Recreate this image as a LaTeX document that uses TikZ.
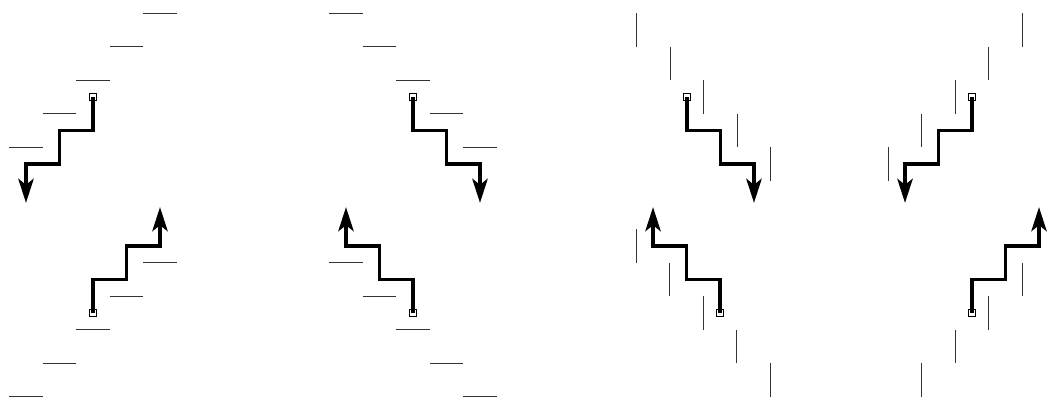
\documentclass[tikz,border=0pt]{standalone}
\usepackage{amsmath, amssymb}
\usepackage{tikz}
\usetikzlibrary{arrows.meta}

\begin{document}
\begin{tikzpicture}[
  x=1cm, y=-1cm,
  seed/.style={rectangle, draw, minimum size=2mm,
               inner sep=0pt, line width=0.5pt},
  rung/.style={draw, black!80, line width=1.1pt},
  route/.style={draw, line width=2.9pt,
                -{Stealth[length=7.2mm, width=4.6mm, inset=1.8mm]}}
]
  \useasboundingbox (0,0) rectangle (31.403,12.03);
  \clip (0,0) rectangle (31.403,12.03);
  % start box, rungs (flat or upright) and the stair path
  \foreach \px/\py/\sx/\sy/\up/\nm in {
    2.776/2.896/-1/1/0/a, 2.776/9.343/1/-1/0/b,
    12.328/2.896/1/1/0/c, 12.328/9.343/-1/-1/0/d,
    20.507/2.896/1/1/1/e, 21.493/9.343/-1/-1/1/f,
    29.015/2.896/-1/1/1/g, 29.015/9.343/1/-1/1/h}
  {
    \node[seed] (\nm) at (\px,\py) {};
    \foreach \m in {-2,...,2} {
      \ifnum\up=0
        \draw[rung] ({\px+\sx*(\m-0.5)},{\py+\sy*(\m-0.5)}) -- ++(\sx,0);
      \else
        \draw[rung] ({\px+\sx*(\m+0.5)},{\py+\sy*(\m-0.5)}) -- ++(0,\sy);
      \fi
    }
    \coordinate (\nm-tip) at ({\px+2*\sx},{\py+3.16*\sy});
    \draw[route] (\nm.center) -- ++(0,\sy) -- ++(\sx,0) -- ++(0,\sy)
      -- ++(\sx,0) -- (\nm-tip);
  }
\end{tikzpicture}
\end{document}
